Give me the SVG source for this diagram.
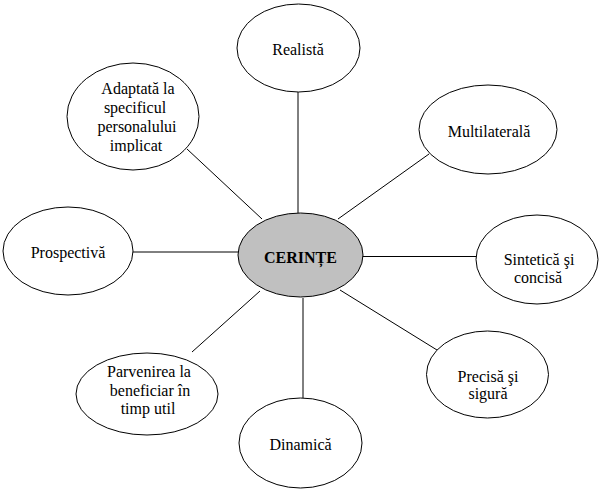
<svg xmlns="http://www.w3.org/2000/svg" width="601" height="491" viewBox="0 0 601 491">
<style>
.n{fill:#fff;stroke:#000;stroke-width:1}
.c{fill:#c0c0c0;stroke:#000;stroke-width:1}
.t{font-size:16px;fill:#000;text-anchor:middle}
.b{font-weight:bold}
.l{stroke:#000;stroke-width:1;fill:none}
</style>
<defs>
<clipPath id="clipA"><rect x="60" y="60" width="150" height="92.5"/></clipPath>
</defs>
<rect width="601" height="491" fill="#fff"/>
<g id="connectors">
<line class="l" x1="298" y1="92" x2="298" y2="213"/>
<line class="l" x1="429" y1="154" x2="338" y2="219"/>
<line class="l" x1="187" y1="149" x2="262" y2="219"/>
<line class="l" x1="133" y1="252" x2="238" y2="252"/>
<line class="l" x1="362" y1="256.5" x2="476" y2="256.5"/>
<line class="l" x1="340" y1="290" x2="437" y2="350"/>
<line class="l" x1="303" y1="298" x2="303" y2="398"/>
<line class="l" x1="260" y1="291" x2="192" y2="352"/>
</g>
<g font-family="'Liberation Serif', 'Times New Roman', 'DejaVu Serif', serif">
<g id="center">
<ellipse class="c" cx="300.5" cy="255" rx="62.5" ry="42"/>
<text class="t b" x="300.5" y="263">CERINȚE</text>
</g>
<g id="realista">
<ellipse class="n" cx="298.5" cy="48" rx="61.5" ry="44"/>
<text class="t" x="298" y="55">Realistă</text>
</g>
<g id="multilaterala">
<ellipse class="n" cx="488" cy="129.5" rx="69" ry="44.5"/>
<text class="t" x="489" y="137">Multilaterală</text>
</g>
<g id="adaptata">
<ellipse class="n" cx="133" cy="116.5" rx="66" ry="53.5"/>
<g clip-path="url(#clipA)">
<text class="t" x="138" y="94">Adaptată la</text>
<text class="t" x="135" y="113">specificul</text>
<text class="t" x="137" y="132">personalului</text>
<text class="t" x="136" y="151">implicat</text>
</g>
</g>
<g id="prospectiva">
<ellipse class="n" cx="68" cy="251" rx="65" ry="44"/>
<text class="t" x="68" y="258">Prospectivă</text>
</g>
<g id="sintetica">
<ellipse class="n" cx="537" cy="259.5" rx="61" ry="44.5"/>
<text class="t" x="539" y="265">Sintetică şi</text>
<text class="t" x="538" y="283">concisă</text>
</g>
<g id="precisa">
<ellipse class="n" cx="487.5" cy="374.5" rx="61" ry="43.5"/>
<text class="t" x="488" y="382">Precisă şi</text>
<text class="t" x="488" y="399">sigură</text>
</g>
<g id="dinamica">
<ellipse class="n" cx="300.5" cy="443" rx="61.5" ry="45"/>
<text class="t" x="300.5" y="450">Dinamică</text>
</g>
<g id="parvenirea">
<ellipse class="n" cx="147" cy="394" rx="71" ry="41"/>
<text class="t" x="149" y="377">Parvenirea la</text>
<text class="t" x="150" y="396">beneficiar în</text>
<text class="t" x="148" y="414">timp util</text>
</g>
</g>
</svg>
